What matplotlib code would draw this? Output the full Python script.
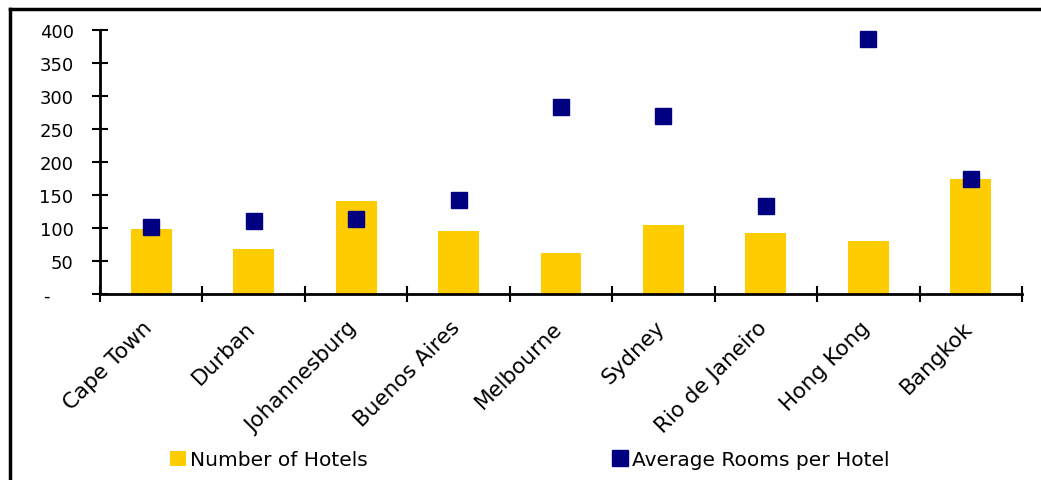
import numpy as np
import matplotlib
matplotlib.use("Agg")
from matplotlib import pyplot as plt
from matplotlib.patches import Patch
from matplotlib.lines import Line2D
from matplotlib.transforms import ScaledTranslation, blended_transform_factory

# chart data
cities = ["Cape Town", "Durban", "Johannesburg", "Buenos Aires", "Melbourne",
          "Sydney", "Rio de Janeiro", "Hong Kong", "Bangkok"]
num_hotels = [98, 68, 141, 95, 62, 104, 92, 80, 174]
avg_rooms = [102, 111, 113, 142, 283, 269, 133, 386, 175]
y_ticks = [0, 50, 100, 150, 200, 250, 300, 350, 400]
y_tick_labels = ["-    ", "50", "100", "150", "200", "250", "300", "350", "400"]

yellow = "#FFCC00"
navy = "#000080"

plt.rcParams['font.family'] = ['DejaVu Sans']

fig = plt.figure(figsize=(10.41, 4.81), dpi=100)
ax = fig.add_axes([100 / 1041, 1 - 295 / 481, 922 / 1041, 264 / 481])

x = np.arange(len(cities))
ax.bar(x, num_hotels, width=0.4, color=yellow, zorder=2)
ax.plot(x, avg_rooms, linestyle="none", marker="s", markersize=11,
        color=navy, zorder=3)

ax.set_xlim(-0.5, len(cities) - 0.5)
ax.set_ylim(0, 400)
ax.set_yticks(y_ticks)
ax.set_yticklabels(y_tick_labels, fontsize=13)

# category ticks sit between categories, labels at the centres
ax.set_xticks(np.arange(len(cities) + 1) - 0.5)
ax.set_xticklabels([])
ax.tick_params(axis="both", which="major", direction="inout", length=12,
               width=1.5, color="black")
ax.tick_params(axis="y", pad=13)

# rotated category labels, top-right corner just under each category
trans = blended_transform_factory(ax.transData, ax.transAxes) + \
    ScaledTranslation(-9 / 100, -23 / 100, fig.dpi_scale_trans)
for i, name in enumerate(cities):
    ax.text(x[i], 0, name, transform=trans, rotation=45, ha="right", va="top",
            rotation_mode="anchor", fontsize=15.5, clip_on=False)

for s in ["top", "right"]:
    ax.spines[s].set_visible(False)
for s in ["left", "bottom"]:
    ax.spines[s].set_linewidth(2)

# frame lines around the chart area (top and left only visible)
fig.add_artist(Line2D([10 / 1041, 10 / 1041], [0, 1 - 10 / 481],
                      transform=fig.transFigure, color="black", lw=2.5))
fig.add_artist(Line2D([10 / 1041, 1], [1 - 10 / 481, 1 - 10 / 481],
                      transform=fig.transFigure, color="black", lw=2.5))

handles = [Patch(facecolor=yellow, edgecolor="none"),
           Line2D([], [], linestyle="none", marker="s", markersize=12, color=navy)]
fig.legend(handles, ["Number of Hotels", "Average Rooms per Hotel"],
           loc="center left", bbox_to_anchor=(162 / 1041, 1 - 461 / 481),
           ncol=2, frameon=False, fontsize=14.5, handlelength=0.8,
           handleheight=0.8, handletextpad=0.2, columnspacing=12.1,
           borderaxespad=0)

fig.savefig("out.png", dpi=100)
